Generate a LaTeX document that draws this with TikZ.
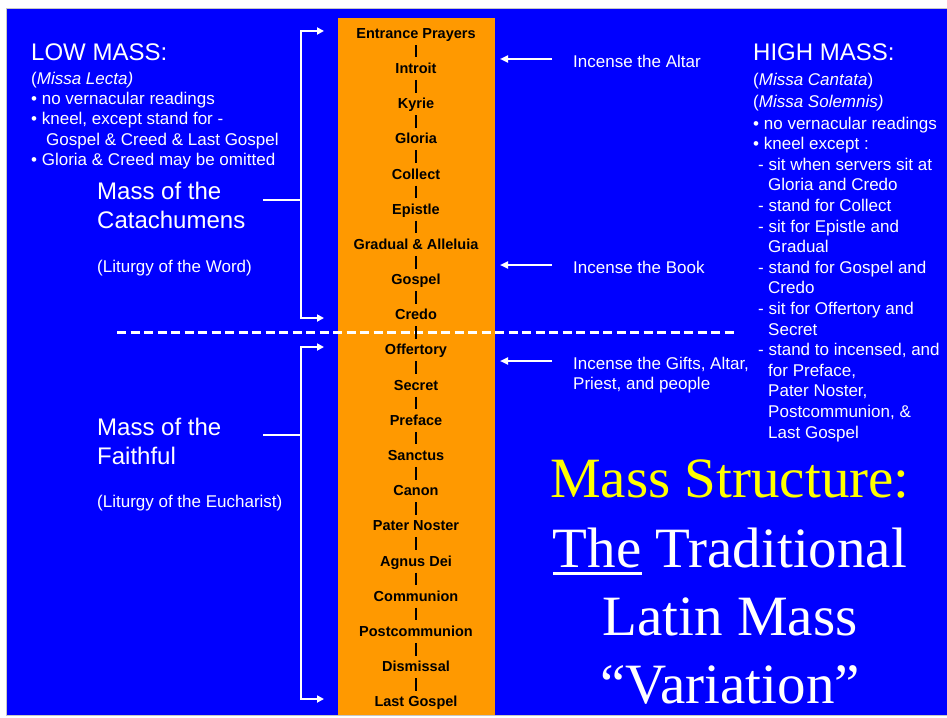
\documentclass[tikz,border=0pt]{standalone}
\usepackage{fontspec}
\setmainfont{Liberation Sans}
\newfontfamily\serfam{Liberation Serif}
\usetikzlibrary{arrows.meta}
\definecolor{bgblue}{HTML}{0000FF}
\definecolor{colorange}{HTML}{FF9900}
\definecolor{ttlyellow}{HTML}{FFFF00}
\newcommand\myul[1]{\setbox0\hbox{#1}\rlap{\rule[-7.5pt]{\wd0}{3pt}}\box0\relax}
\begin{document}
\begin{tikzpicture}[x=1pt,y=-1pt,
  item/.style={anchor=base, font=\fontsize{14.5}{17}\selectfont\bfseries, text=black,
    text height=13pt, text depth=3.5pt, inner ysep=2.8pt, inner xsep=0pt},
  bar/.style={line width=1.8pt, black},
  wt/.style={anchor=base west, inner sep=0pt, text=white, font=\fontsize{17}{20.6}\selectfont},
  big/.style={wt, font=\fontsize{24}{28}\selectfont},
  ttlline/.style={anchor=base, inner sep=0pt, font=\serfam\fontsize{57}{69}\selectfont, text=white},
  brk/.style={white, line width=1.8pt},
  brkarr/.style={brk, -{Triangle[length=7pt,width=7pt]}},
  inc/.style={white, line width=2pt, -{Triangle[length=8pt,width=7pt]}},
  sepline/.style={white, line width=3pt, dash pattern=on 9pt off 4.5pt}
]
\useasboundingbox (0,0) rectangle (947,717);
\fill[white] (0,0) rectangle (947,717);
\fill[bgblue] (7,9) rectangle (947,715);
\draw[gray!45, line width=1pt] (947,8.5) -- (6.5,8.5) -- (6.5,715.5) -- (947,715.5);
\fill[colorange] (338,18) rectangle (495,715);

% dashed separator
\coordinate (sepL) at (117,332);
\coordinate (sepR) at (737,332);
\draw[sepline] (sepL) -- (sepR);

% items
\foreach \n/\t [count=\i from 0] in {ep/Entrance Prayers, intr/Introit, ky/Kyrie, gl/Gloria,
  col/Collect, epi/Epistle, gra/Gradual \& Alleluia, gos/Gospel, cre/Credo, off/Offertory,
  sec/Secret, pre/Preface, san/Sanctus, can/Canon, pat/Pater Noster, agn/Agnus Dei,
  com/Communion, pco/Postcommunion, dis/Dismissal, lgo/Last Gospel}
  \node[item] (\n) at (416,{38.3+35.18*\i}) {\t};
\foreach \a/\b in {ep/intr, intr/ky, ky/gl, gl/col, col/epi, epi/gra, gra/gos, gos/cre,
  cre/off, off/sec, sec/pre, pre/san, san/can, can/pat, pat/agn, agn/com, com/pco, pco/dis, dis/lgo}
  \draw[bar] (\a) -- (\b);

% left brackets
\coordinate (b1t) at (324,31); \coordinate (b1b) at (324,318);
\coordinate (b1m) at (301,200); \coordinate (b1l) at (263,200);
\draw[brkarr] (b1m) |- (b1t);
\draw[brkarr] (b1m) |- (b1b);
\draw[brk] (b1l) -- (b1m);
\coordinate (b2t) at (324,347); \coordinate (b2b) at (324,699);
\coordinate (b2m) at (301,435); \coordinate (b2l) at (263,435);
\draw[brkarr] (b2m) |- (b2t);
\draw[brkarr] (b2m) |- (b2b);
\draw[brk] (b2l) -- (b2m);

% incense arrows
\coordinate (a1s) at (552,59);  \coordinate (a1e) at (500,59);
\coordinate (a2s) at (552,265); \coordinate (a2e) at (500,265);
\coordinate (a3s) at (552,361); \coordinate (a3e) at (500,361);
\draw[inc] (a1s) -- (a1e);
\draw[inc] (a2s) -- (a2e);
\draw[inc] (a3s) -- (a3e);
\node[wt] (i1) at (573,67.7) {Incense the Altar};
\node[wt] (i2) at (573,273) {Incense the Book};
\node[wt] (i3) at (573,369) {Incense the Gifts, Altar,};
\node[wt] (i4) at (573,389.6) {Priest, and people};

% low mass
\node[big] (lm) at (31,60) {LOW MASS:};
\node[wt] (lm1) at (31,84.5) {({\itshape Missa Lecta)}};
\node[wt] (lm2) at (31,104) {• no vernacular readings};
\node[wt] (lm3) at (31,124.6) {• kneel, except stand for -};
\node[wt] (lm4) at (46,145.2) {Gospel \& Creed \& Last Gospel};
\node[wt] (lm5) at (31,165.8) {• Gloria \& Creed may be omitted};

% sections
\node[big] (mc1) at (97,199.5) {Mass of the};
\node[big] (mc2) at (97,228) {Catachumens};
\node[wt] (mc3) at (97,272) {(Liturgy of the Word)};
\node[big] (mf1) at (97,435) {Mass of the};
\node[big] (mf2) at (97,464) {Faithful};
\node[wt] (mf3) at (97,507) {(Liturgy of the Eucharist)};

% high mass
\node[big] (hm) at (753,60) {HIGH MASS:};
\node[wt] (hm1) at (753,85) {({\itshape Missa Cantata})};
\node[wt] (hm2) at (753,107) {({\itshape Missa Solemnis)}};
\node[wt] (hm3) at (753,129) {• no vernacular readings};
\node[wt] (hm4) at (753,149.6) {• kneel except :};
\node[wt] (hm5) at (758,170.2) {- sit when servers sit at};
\node[wt] (hm6) at (768,190.8) {Gloria and Credo};
\node[wt] (hm7) at (758,211.4) {- stand for Collect};
\node[wt] (hm8) at (758,232) {- sit for Epistle and};
\node[wt] (hm9) at (768,252.6) {Gradual};
\node[wt] (hm10) at (758,273.2) {- stand for Gospel and};
\node[wt] (hm11) at (768,293.8) {Credo};
\node[wt] (hm12) at (758,314.4) {- sit for Offertory and};
\node[wt] (hm13) at (768,335) {Secret};
\node[wt] (hm14) at (758,355.6) {- stand to incensed, and};
\node[wt] (hm15) at (768,376.2) {for Preface,};
\node[wt] (hm16) at (768,396.8) {Pater Noster,};
\node[wt] (hm17) at (768,417.4) {Postcommunion, \&};
\node[wt] (hm18) at (768,438) {Last Gospel};

% title
\node[ttlline, text=ttlyellow] (t1) at (730,497) {Mass Structure:};
\node[ttlline] (t2) at (730,567) {\myul{The} Traditional};
\node[ttlline] (t3) at (730,635) {Latin Mass};
\node[ttlline] (t4) at (730,703) {“Variation”};
\end{tikzpicture}
\end{document}
